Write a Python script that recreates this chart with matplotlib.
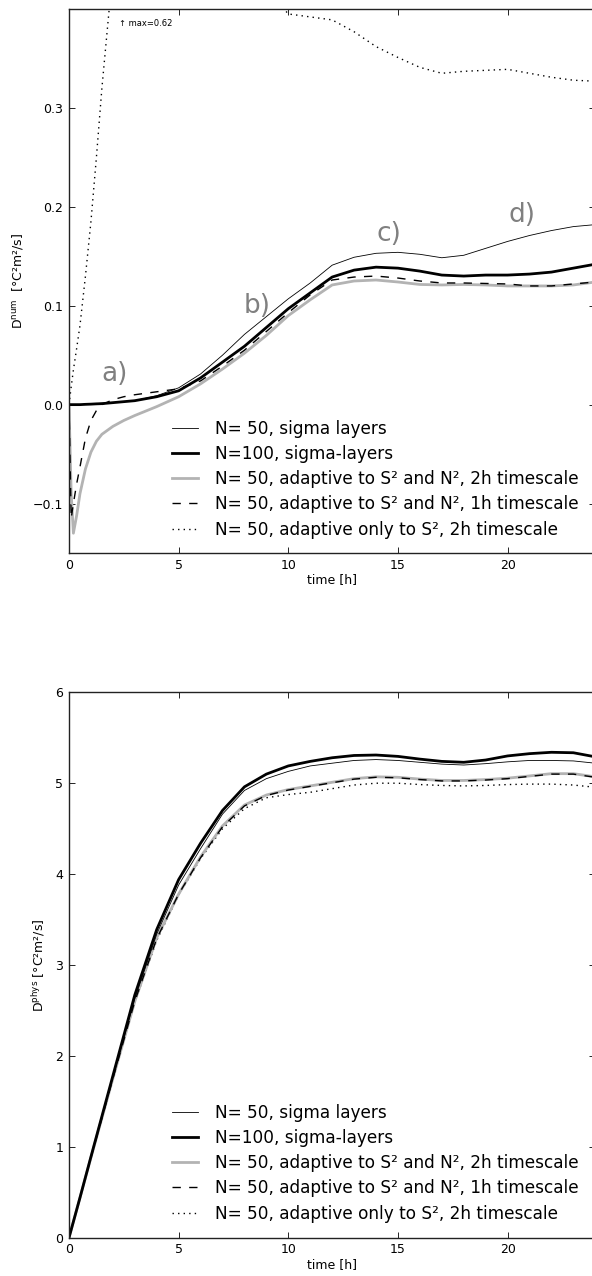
import matplotlib
matplotlib.use("Agg")
import matplotlib.pyplot as plt

# ---------------- data ----------------
labels = ['N= 50, sigma layers', 'N=100, sigma-layers',
          'N= 50, adaptive to S² and N², 2h timescale',
          'N= 50, adaptive to S² and N², 1h timescale',
          'N= 50, adaptive only to S², 2h timescale']

t_num = [0, 0.1, 0.2, 0.35, 0.5, 0.75, 1.0, 1.25, 1.5, 2.0, 2.5, 3, 4, 5, 6, 7, 8, 9,
         10, 11, 12, 13, 14, 15, 16, 17, 18, 19, 20, 21, 22, 23, 24]
num_sigma50 = [0, 0, 0, 0, 0, 0.0005, 0.001, 0.001, 0.0015, 0.002, 0.003, 0.004, 0.009,
               0.017, 0.031, 0.050, 0.071, 0.089, 0.107, 0.123, 0.141, 0.149, 0.153,
               0.154, 0.152, 0.1485, 0.151, 0.158, 0.165, 0.171, 0.176, 0.180, 0.182]
num_sigma100 = [0, 0, 0, 0, 0, 0.0003, 0.0005, 0.0008, 0.001, 0.002, 0.003, 0.004, 0.008,
                0.014, 0.027, 0.043, 0.059, 0.078, 0.097, 0.113, 0.129, 0.136, 0.139,
                0.138, 0.135, 0.131, 0.130, 0.131, 0.131, 0.132, 0.134, 0.138, 0.142]
num_adapt2h = [0, -0.09, -0.13, -0.112, -0.09, -0.065, -0.048, -0.037, -0.03, -0.022,
               -0.016, -0.011, -0.002, 0.008, 0.021, 0.036, 0.052, 0.070, 0.090, 0.106,
               0.121, 0.125, 0.126, 0.124, 0.1215, 0.121, 0.1215, 0.121, 0.120, 0.120,
               0.120, 0.121, 0.124]
num_adapt1h = [0, -0.115, -0.10, -0.08, -0.063, -0.034, -0.016, -0.006, 0.0, 0.005,
               0.008, 0.010, 0.013, 0.016, 0.024, 0.039, 0.055, 0.074, 0.093, 0.111,
               0.126, 0.129, 0.130, 0.128, 0.125, 0.123, 0.123, 0.1225, 0.122, 0.120,
               0.120, 0.122, 0.124]
num_adaptS2 = [0, 0.018, 0.035, 0.057, 0.08, 0.13, 0.185, 0.25, 0.32, 0.44, 0.51, 0.56,
               0.61, 0.62, 0.60, 0.56, 0.50, 0.42, 0.395, 0.392, 0.389, 0.377, 0.362,
               0.351, 0.341, 0.335, 0.337, 0.338, 0.339, 0.335, 0.331, 0.328, 0.327]

t_phys = [0, 0.5, 1, 2, 3, 4, 5, 6, 7, 8, 9, 10, 11, 12, 13, 14, 15, 16, 17, 18, 19,
          20, 21, 22, 23, 24]
phys_sigma50 = [0, 0.44, 0.88, 1.76, 2.63, 3.34, 3.88, 4.28, 4.66, 4.92, 5.05, 5.13, 5.19,
                5.22, 5.25, 5.26, 5.25, 5.23, 5.21, 5.20, 5.215, 5.235, 5.25, 5.25,
                5.245, 5.22]
phys_sigma100 = [0, 0.44, 0.89, 1.78, 2.67, 3.39, 3.94, 4.34, 4.70, 4.96, 5.10, 5.19, 5.24,
                 5.28, 5.305, 5.31, 5.295, 5.265, 5.24, 5.23, 5.255, 5.30, 5.325, 5.34,
                 5.335, 5.29]
phys_adapt2h = [0, 0.44, 0.88, 1.75, 2.60, 3.30, 3.78, 4.19, 4.53, 4.76, 4.87, 4.93, 4.97,
                5.01, 5.05, 5.07, 5.065, 5.045, 5.03, 5.03, 5.04, 5.055, 5.08, 5.105,
                5.105, 5.07]
phys_adapt1h = [0, 0.44, 0.88, 1.75, 2.60, 3.29, 3.78, 4.18, 4.52, 4.75, 4.865, 4.925,
                4.965, 5.005, 5.045, 5.065, 5.06, 5.04, 5.025, 5.025, 5.035, 5.05, 5.075,
                5.10, 5.10, 5.065]
phys_adaptS2 = [0, 0.44, 0.88, 1.75, 2.59, 3.27, 3.77, 4.17, 4.50, 4.72, 4.84, 4.875, 4.90,
                4.94, 4.98, 5.00, 5.00, 4.985, 4.975, 4.97, 4.975, 4.985, 4.99, 4.99,
                4.98, 4.955]

x_ticks = [0, 5, 10, 15, 20]
num_yticks = [-0.1, 0.0, 0.1, 0.2, 0.3]
phys_yticks = [0, 1, 2, 3, 4, 5, 6]

panel_labels = ['a)', 'b)', 'c)', 'd)']
panel_pos = [(1.46, 0.024), (7.98, 0.093), (14.03, 0.165), (20.03, 0.1845)]

# ---------------- style ----------------
plt.rcParams['font.family'] = ['DejaVu Sans']
plt.rcParams['mathtext.default'] = 'regular'

styles = [dict(color='black', lw=0.6, ls='-'),
          dict(color='black', lw=2.0, ls='-'),
          dict(color='#b3b3b3', lw=2.0, ls='-'),
          dict(color='black', lw=1.0, ls=(0, (6, 6))),
          dict(color='black', lw=1.0, ls=(0, (1, 3)))]

W, H = 592, 1276
fig = plt.figure(figsize=(W / 100, H / 100), dpi=100)

ax_l = 69 / W
ax_w = (595.3 - 69) / W
ax1 = fig.add_axes([ax_l, 1 - 553 / H, ax_w, (553 - 9) / H])
ax2 = fig.add_axes([ax_l, 1 - 1237.7 / H, ax_w, (1237.7 - 692.3) / H])


def style_axes(ax):
    ax.tick_params(direction='in', length=4, width=0.6, top=True, right=True,
                   labelsize=9, pad=4)
    for s in ax.spines.values():
        s.set_linewidth(1.0)
        s.set_color('#222222')
    ax.set_xlim(0, 24)
    ax.set_xticks(x_ticks)
    ax.set_xlabel('time [h]', fontsize=9, labelpad=1)


leg_kw = dict(loc='upper left', frameon=False, fontsize=12.15, borderpad=0,
              borderaxespad=0, handlelength=1.55, handletextpad=1.0, labelspacing=0.43)

num_series = [num_sigma50, num_sigma100, num_adapt2h, num_adapt1h, num_adaptS2]
order = [4, 2, 3, 0, 1]
handles = [None] * 5
for i in order:
    (h,) = ax1.plot(t_num, num_series[i], label=labels[i], **styles[i])
    handles[i] = h
ax1.set_ylim(-0.15, 0.4)
ax1.set_yticks(num_yticks)
style_axes(ax1)
ax1.set_ylabel('D$^{num}$  [°C²m²/s]', fontsize=9, labelpad=6)
for lab, (tx, ty) in zip(panel_labels, panel_pos):
    ax1.text(tx, ty, lab, fontsize=19, color='#808080', va='baseline', ha='left')
ax1.text(2.28, 0.385, '↑ max=0.62', fontsize=6, va='center', ha='left')
ax1.legend(handles, labels, bbox_to_anchor=(0.1957, 0.2454), **leg_kw)

phys_series = [phys_sigma50, phys_sigma100, phys_adapt2h, phys_adapt1h, phys_adaptS2]
handles2 = [None] * 5
for i in order:
    (h,) = ax2.plot(t_phys, phys_series[i], label=labels[i], **styles[i])
    handles2[i] = h
ax2.set_ylim(0, 6)
ax2.set_yticks(phys_yticks)
style_axes(ax2)
ax2.set_ylabel('D$^{phys}$ [°C²m²/s]', fontsize=9, labelpad=6)
ax2.legend(handles2, labels, bbox_to_anchor=(0.1957, 0.246), **leg_kw)

fig.savefig('out.png', dpi=100)
